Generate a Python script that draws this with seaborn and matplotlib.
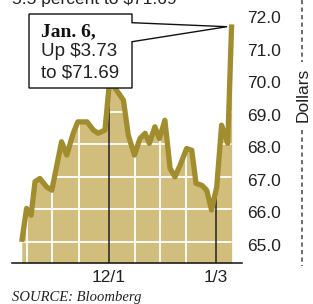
import numpy as np
import pandas as pd
import matplotlib
matplotlib.use("Agg")
import matplotlib.pyplot as plt
import matplotlib.transforms as mtransforms
from matplotlib.lines import Line2D
from matplotlib.patches import Polygon
import seaborn as sns

# Datos (dias desde el inicio, precio en dolares)
dias = [0, 1.5, 2.9, 4.1, 5.6, 7.7, 9.3, 12.3, 13.9, 15.9, 17.3, 20.2, 22.1, 23.6,
        25.7, 27.3, 28.8, 31.4, 32.9, 34.8, 36.5, 38.1, 39.4, 41.1, 42.5, 44.2,
        45.8, 47.3, 48.9, 50.9, 52.5, 53.8, 55.6, 57.1, 58.6, 60.2, 61.7, 63.6, 64.8]
precio = [65.00, 66.03, 65.82, 66.85, 66.95, 66.69, 66.59, 68.08, 67.67, 68.34,
          68.69, 68.69, 68.44, 68.34, 68.44, 70.15, 69.73, 69.36, 68.28, 67.67,
          68.18, 68.34, 68.03, 68.54, 68.18, 68.74, 67.26, 67.00, 67.36, 67.87,
          67.82, 66.80, 66.74, 66.59, 65.98, 66.69, 68.59, 68.03, 71.69]
ticks_x = [26.9, 60.0]
etiquetas_x = ["12/1", "1/3"]
tope_ticks = [70.0, 66.69]
ticks_y = [65.0, 66.0, 67.0, 68.0, 69.0, 70.0, 71.0, 72.0]
grid_x = [1.6, 9.4, 17.7, 35.0, 42.7, 50.7]
grid_y = [65.0, 66.0, 67.0, 68.0, 69.0, 70.0]

df = pd.DataFrame({"dia": dias, "precio": precio})

sns.set_style("white")
plt.rcParams["font.family"] = ["Liberation Sans", "DejaVu Sans"]

W, H = 313, 304
fig = plt.figure(figsize=(W / 100, H / 100), dpi=100)
ax = fig.add_axes([12 / W, 1 - 263 / H, (242 - 12) / W, 263 / H])
ax.patch.set_alpha(0)

ymin, ymax = 64.35, 72.44
ax.set_xlim(-3, 68)
ax.set_ylim(ymin, ymax)

relleno = ax.fill_between(df["dia"], ymin, df["precio"], color="#d1be7d", lw=0, zorder=1)
ruta = relleno.get_paths()[0]
for gx in grid_x:
    ln = ax.axvline(gx, color="white", lw=1.3, zorder=2)
    ln.set_clip_path(ruta, ax.transData)
for gy in grid_y:
    ln = ax.axhline(gy, color="white", lw=1.3, zorder=2)
    ln.set_clip_path(ruta, ax.transData)

ax.vlines(ticks_x, ymin, tope_ticks, color="#222222", lw=1.1, zorder=3)

sns.lineplot(data=df, x="dia", y="precio", color="#a18d2d", lw=3.8, ax=ax,
             zorder=4, solid_joinstyle="round", solid_capstyle="butt")

for s in ["left", "right", "top"]:
    ax.spines[s].set_visible(False)
ax.spines["bottom"].set_color("#111111")
ax.spines["bottom"].set_linewidth(1.1)

ax.set_xticks(ticks_x)
ax.set_xticklabels(etiquetas_x, fontsize=12.5, color="#222222")
ax.yaxis.tick_right()
ax.set_yticks(ticks_y)
ax.set_yticklabels([f"{v:.1f}" for v in ticks_y], fontsize=12.5, color="#222222")
ax.tick_params(axis="x", length=0, pad=5)
ax.tick_params(axis="y", length=0, pad=3.5)
desp = mtransforms.ScaledTranslation(0, -3 / 100, fig.dpi_scale_trans)
for lab in ax.get_yticklabels():
    lab.set_transform(lab.get_transform() + desp)
ax.set_xlabel("")
ax.set_ylabel("")


def px(x, y):
    return (x / W, 1 - y / H)


# Cuadro de anotacion con flecha
caja = Polygon([px(29, 14), px(132, 14), px(132, 22.7), px(227, 26.7), px(132, 41.7),
                px(132, 88), px(29, 88)], closed=True, transform=fig.transFigure,
               facecolor="white", edgecolor="#111111", lw=1.0, zorder=10)
fig.patches.append(caja)
fig.text(*px(41, 32), "Jan. 6,", fontsize=14, fontweight="bold", va="center",
         ha="left", color="#111111", family="Liberation Serif", zorder=11)
fig.text(*px(41, 52), "Up $3.73", fontsize=13.5, va="center", ha="left",
         color="#222222", zorder=11)
fig.text(*px(41, 73), "to $71.69", fontsize=13.5, va="center", ha="left",
         color="#222222", zorder=11)

# Texto superior recortado
fig.text(*px(12, 4), "5.5 percent to $71.69", fontsize=12.5, va="baseline",
         ha="left", color="#222222")

# Etiqueta Dollars con linea punteada
fig.text(*px(303, 95), "Dollars", rotation=90, fontsize=12.5, va="center",
         ha="center", color="#222222")
for y0, y1 in [(0, 62), (130, 266)]:
    fig.lines.append(Line2D([301.7 / W, 301.7 / W], [1 - y0 / H, 1 - y1 / H],
                            transform=fig.transFigure, color="#555555", lw=1.2,
                            linestyle=(0, (2.5, 2))))

fig.text(*px(12, 297), "SOURCE: Bloomberg", fontsize=10.5, style="italic",
         family="Liberation Serif", va="center", ha="left", color="#222222")

fig.savefig("out.png", dpi=100)
